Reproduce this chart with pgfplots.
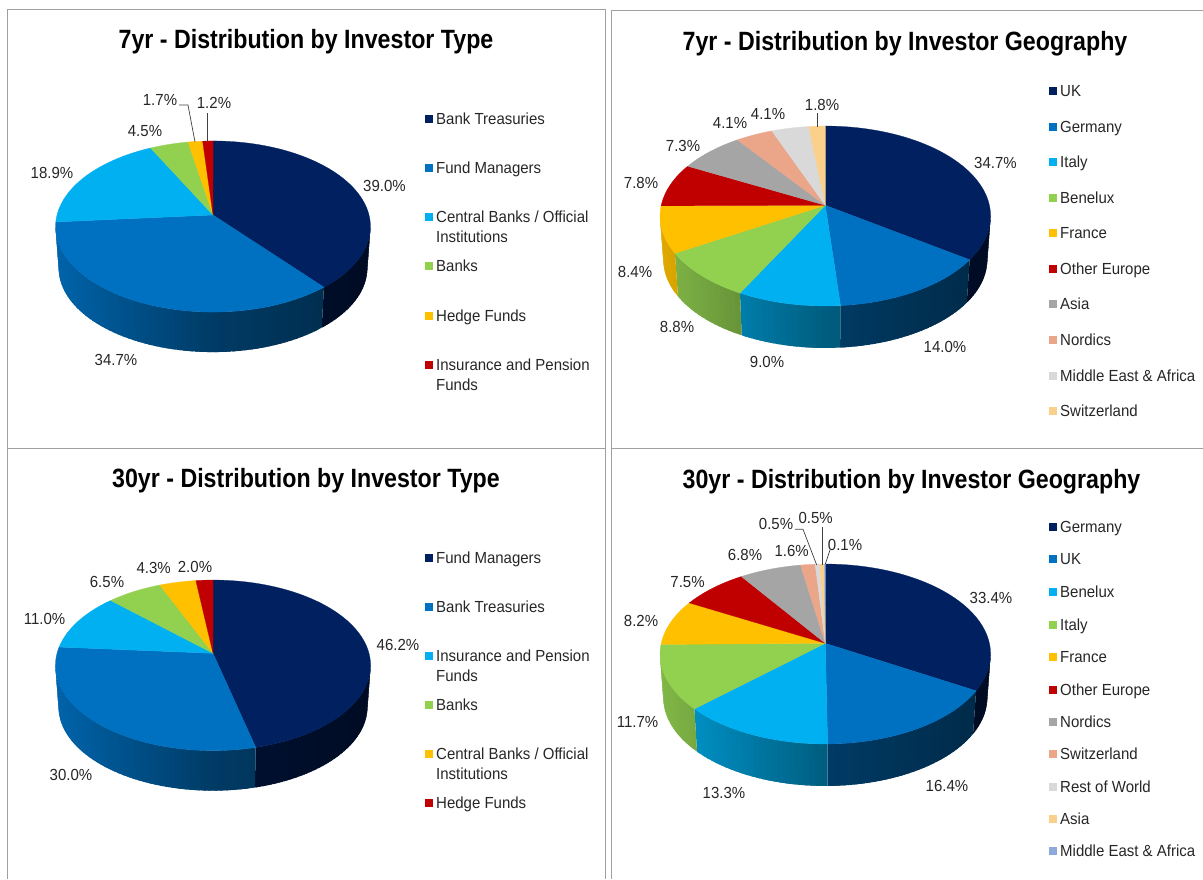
\documentclass[border=0pt]{standalone}
\usepackage{fontspec}
\setmainfont{Liberation Sans}
\usepackage{graphicx}
\usepackage{pgfplots}
\pgfplotsset{compat=1.18}
\definecolor{cNavy}{HTML}{002060}
\definecolor{cBlue}{HTML}{0070C0}
\definecolor{cSky}{HTML}{00B0F0}
\definecolor{cGreen}{HTML}{92D050}
\definecolor{cGold}{HTML}{FFC000}
\definecolor{cRed}{HTML}{C00000}
\definecolor{cGrey}{HTML}{A5A5A5}
\definecolor{cSalmon}{HTML}{EBA68A}
\definecolor{cLight}{HTML}{D9D9D9}
\definecolor{cPeach}{HTML}{FBD08A}
\definecolor{cPeri}{HTML}{8EA9DB}
\definecolor{cFrame}{HTML}{A0A0A0}
\definecolor{cText}{HTML}{262626}
\definecolor{cLead}{HTML}{404040}
% position of a rim point at angle #1 (clockwise from the top)
\newcommand\RimAt[1]{%
  \pgfmathsetmacro\ru{sin(#1)}%
  \pgfmathsetmacro\rv{cos(#1)}%
  \pgfmathsetmacro\rw{1+\PK*\rv}%
  \pgfmathsetmacro\RX{\PX+\PR*\ru/\rw}%
  \pgfmathsetmacro\RY{\PY-\PH*\rv/\rw}%
  \pgfmathsetmacro\RXb{\PX+\PS*(\RX-\PX)}%
  \pgfmathsetmacro\RYb{\PY+\PD+\PS*(\RY-\PY)}%
}
\newcommand\WallPart[3]{% from angle #1 to #2 colour #3
  \pgfmathsetmacro\sa{max(#1,\ThA)}%
  \pgfmathsetmacro\sb{min(#2,360-\ThA)}%
  \ifdim\sa pt<\sb pt
    \pgfmathtruncatemacro\nn{ceil((\sb-\sa)/2)}%
    \foreach \ii in {1,...,\nn}{%
      \pgfmathsetmacro\ta{\sa+(\sb-\sa)*(\ii-1)/\nn}%
      \pgfmathsetmacro\tb{\sa+(\sb-\sa)*\ii/\nn}%
      \pgfmathsetmacro\tc{min(\tb+1.5,\sb)}%
      \RimAt{\ta}%
      \let\xa\RX\let\ya\RY\let\xab\RXb\let\yab\RYb
      \RimAt{\tb}%
      \pgfmathsetmacro\shx{((\xa+\RX)/2-\PX)/\PR}%
      \pgfmathsetmacro\pct{100*(\shx<0 ? 0.53-0.35*\shx : 0.53-0.16*\shx)}%
      \RimAt{\tc}%
      \edef\tmp{\noexpand\addplot[forget plot,no marks,fill=#3!\pct!black,draw=none]
        coordinates {(\xa,\ya)(\RX,\RY)(\RXb,\RYb)(\xab,\yab)(\xa,\ya)};}%
      \tmp
    }%
  \fi
}
\newcommand\TopPart[3]{%
  \gdef\clist{(\PX,\PY)}%
  \pgfmathtruncatemacro\nn{max(1,ceil((#2-#1)/2))}%
  \foreach \ii in {0,...,\nn}{%
    \pgfmathsetmacro\ta{#1+(#2-#1)*\ii/\nn}%
    \RimAt{\ta}%
    \xdef\clist{\clist(\RX,\RY)}%
  }%
  \edef\tmp{\noexpand\addplot[forget plot,no marks,fill=#3,draw=#3,line width=0.25pt,line join=round]
    coordinates {\clist(\PX,\PY)};}%
  \tmp
}
% cx, apex y, R, H, k, s, depth, list of value/colour
\newcommand\DrawPie[8]{%
  \def\PX{#1}\def\PY{#2}\def\PR{#3}\def\PH{#4}\def\PK{#5}\def\PS{#6}\def\PD{#7}%
  \pgfmathsetmacro\ThA{acos(-#5)}%
  \gdef\cum{0}%
  \foreach \val/\col in {#8}{%
    \pgfmathsetmacro\A{\cum*3.6}\pgfmathsetmacro\B{(\cum+\val)*3.6}%
    \WallPart{\A}{\B}{\col}%
    \pgfmathsetmacro\cc{\cum+\val}\xdef\cum{\cc}%
  }%
  \gdef\cum{0}%
  \foreach \val/\col in {#8}{%
    \pgfmathsetmacro\A{\cum*3.6}\pgfmathsetmacro\B{(\cum+\val)*3.6}%
    \TopPart{\A}{\B}{\col}%
    \pgfmathsetmacro\cc{\cum+\val}\xdef\cum{\cc}%
  }%
}
\newcommand\Txt[1]{\scalebox{1}[1.07]{#1}}
\newcommand\Lab[3]{\node[anchor=base,yshift=-5.7pt,inner sep=0pt,text=cText,font=\fontsize{15}{18}\selectfont] at (axis cs:#1,#2) {\Txt{#3}};}
\newcommand\Leg[4]{% text x, y, colour, text
  \addplot[forget plot,only marks,mark=square*,mark size=3.4pt,color=#3] coordinates {({#1-7},#2)};
  \node[anchor=base west,yshift=-5.7pt,inner sep=0pt,text=cText,font=\fontsize{15}{18}\selectfont] at (axis cs:#1,#2) {\Txt{#4}};}
\newcommand\LegB[2]{\node[anchor=base west,yshift=-5.7pt,inner sep=0pt,text=cText,font=\fontsize{15}{18}\selectfont] at (axis cs:#1) {\Txt{#2}};}
\newcommand\Ttl[3]{\node[anchor=center,yshift=-3pt,inner sep=0pt,text=black,font=\bfseries\fontsize{23.2}{28}\selectfont] at (axis cs:#1,#2) {\scalebox{1}[1.14]{#3}};}
\begin{document}
\begin{tikzpicture}
\path[use as bounding box] (0,0) rectangle (1203pt,879pt);
\begin{axis}[
  at={(0,0)}, anchor=south west,
  scale only axis, width=1203pt, height=879pt,
  xmin=0, xmax=1203, ymin=0, ymax=879, y dir=reverse,
  axis lines=none, clip=true]
% frames
\addplot[forget plot,no marks,color=cFrame,line width=1pt] coordinates {(7,879)(7,9)(605.5,9)(605.5,879)};
\addplot[forget plot,no marks,color=cFrame,line width=1pt] coordinates {(7,448)(605.5,448)};
\addplot[forget plot,no marks,color=cFrame,line width=1pt] coordinates {(611.5,879)(611.5,10)(1203,10)};
\addplot[forget plot,no marks,color=cFrame,line width=1pt] coordinates {(611.5,448)(1203,448)};
% pies
\DrawPie{213}{215}{156}{84}{0.1345}{0.98}{42}{39.0/cNavy,34.7/cBlue,18.9/cSky,4.5/cGreen,1.7/cGold,1.2/cRed}
\DrawPie{825.3}{205.3}{164.1}{88.7}{0.119}{0.98}{44}{34.7/cNavy,14.0/cBlue,9.0/cSky,8.8/cGreen,8.4/cGold,7.8/cRed,7.3/cGrey,4.1/cSalmon,4.1/cLight,1.8/cPeach}
\DrawPie{213}{653.3}{156}{83.6}{0.141}{0.98}{42}{46.2/cNavy,30.0/cBlue,11.0/cSky,6.5/cGreen,4.3/cGold,2.0/cRed}
\DrawPie{825.3}{643.3}{164.1}{88.7}{0.119}{0.98}{44}{33.4/cNavy,16.4/cBlue,13.3/cSky,11.7/cGreen,8.2/cGold,7.5/cRed,6.8/cGrey,1.6/cSalmon,0.5/cLight,0.5/cPeach,0.1/cPeri}
% leader lines
\addplot[forget plot,no marks,color=cLead,line width=0.7pt] coordinates {(179,105)(188,105)(195,142)};
\addplot[forget plot,no marks,color=cLead,line width=0.7pt] coordinates {(207,113)(207,142)};
\addplot[forget plot,no marks,color=cLead,line width=0.7pt] coordinates {(817.3,113)(817.3,127)};
\addplot[forget plot,no marks,color=cLead,line width=0.7pt] coordinates {(795,529.3)(803,529.3)(816.7,565)};
\addplot[forget plot,no marks,color=cLead,line width=0.7pt] coordinates {(822,527)(822,565)};
\addplot[forget plot,no marks,color=cLead,line width=0.7pt] coordinates {(830,550)(825.3,564)};
% titles
\Ttl{306}{39}{7yr - Distribution by Investor Type}
\Ttl{905}{41}{7yr - Distribution by Investor Geography}
\Ttl{306}{478}{30yr - Distribution by Investor Type}
\Ttl{911.5}{479}{30yr - Distribution by Investor Geography}
% data labels
\Lab{384.5}{186}{39.0\%}\Lab{116}{360}{34.7\%}\Lab{52}{173}{18.9\%}\Lab{145}{131}{4.5\%}\Lab{160}{100}{1.7\%}\Lab{214}{103}{1.2\%}
\Lab{995.5}{163}{34.7\%}\Lab{945}{347}{14.0\%}\Lab{767}{362}{9.0\%}\Lab{677}{327}{8.8\%}\Lab{635}{272}{8.4\%}\Lab{641}{183}{7.8\%}\Lab{683}{146}{7.3\%}\Lab{730}{123}{4.1\%}\Lab{768}{114}{4.1\%}\Lab{822}{105}{1.8\%}
\Lab{398}{645}{46.2\%}\Lab{71}{775}{30.0\%}\Lab{44.5}{619}{11.0\%}\Lab{107}{582}{6.5\%}\Lab{153.7}{568}{4.3\%}\Lab{195}{567}{2.0\%}
\Lab{991}{598}{33.4\%}\Lab{947}{786}{16.4\%}\Lab{724}{793}{13.3\%}\Lab{637.5}{722}{11.7\%}\Lab{641}{621}{8.2\%}\Lab{687.5}{582}{7.5\%}\Lab{745}{555}{6.8\%}\Lab{791.7}{551}{1.6\%}\Lab{776}{524}{0.5\%}\Lab{815.7}{518}{0.5\%}\Lab{845}{545}{0.1\%}
% legends
\Leg{436}{119}{cNavy}{Bank Treasuries}
\Leg{436}{168}{cBlue}{Fund Managers}
\Leg{436}{217}{cSky}{Central Banks / Official}\LegB{436,237}{Institutions}
\Leg{436}{266}{cGreen}{Banks}
\Leg{436}{315.5}{cGold}{Hedge Funds}
\Leg{436}{365}{cRed}{Insurance and Pension}\LegB{436,385}{Funds}
\Leg{1060}{91}{cNavy}{UK}
\Leg{1060}{127}{cBlue}{Germany}
\Leg{1060}{162}{cSky}{Italy}
\Leg{1060}{198}{cGreen}{Benelux}
\Leg{1060}{233}{cGold}{France}
\Leg{1060}{269}{cRed}{Other Europe}
\Leg{1060}{304}{cGrey}{Asia}
\Leg{1060}{340}{cSalmon}{Nordics}
\Leg{1060}{376}{cLight}{Middle East \& Africa}
\Leg{1060}{411}{cPeach}{Switzerland}
\Leg{436}{558}{cNavy}{Fund Managers}
\Leg{436}{607}{cBlue}{Bank Treasuries}
\Leg{436}{656}{cSky}{Insurance and Pension}\LegB{436,676}{Funds}
\Leg{436}{705}{cGreen}{Banks}
\Leg{436}{754}{cGold}{Central Banks / Official}\LegB{436,774}{Institutions}
\Leg{436}{803}{cRed}{Hedge Funds}
\Leg{1060}{527}{cNavy}{Germany}
\Leg{1060}{559}{cBlue}{UK}
\Leg{1060}{592}{cSky}{Benelux}
\Leg{1060}{625}{cGreen}{Italy}
\Leg{1060}{657}{cGold}{France}
\Leg{1060}{690}{cRed}{Other Europe}
\Leg{1060}{722}{cGrey}{Nordics}
\Leg{1060}{754}{cSalmon}{Switzerland}
\Leg{1060}{787}{cLight}{Rest of World}
\Leg{1060}{819}{cPeach}{Asia}
\Leg{1060}{851}{cPeri}{Middle East \& Africa}
\end{axis}
\end{tikzpicture}
\end{document}
